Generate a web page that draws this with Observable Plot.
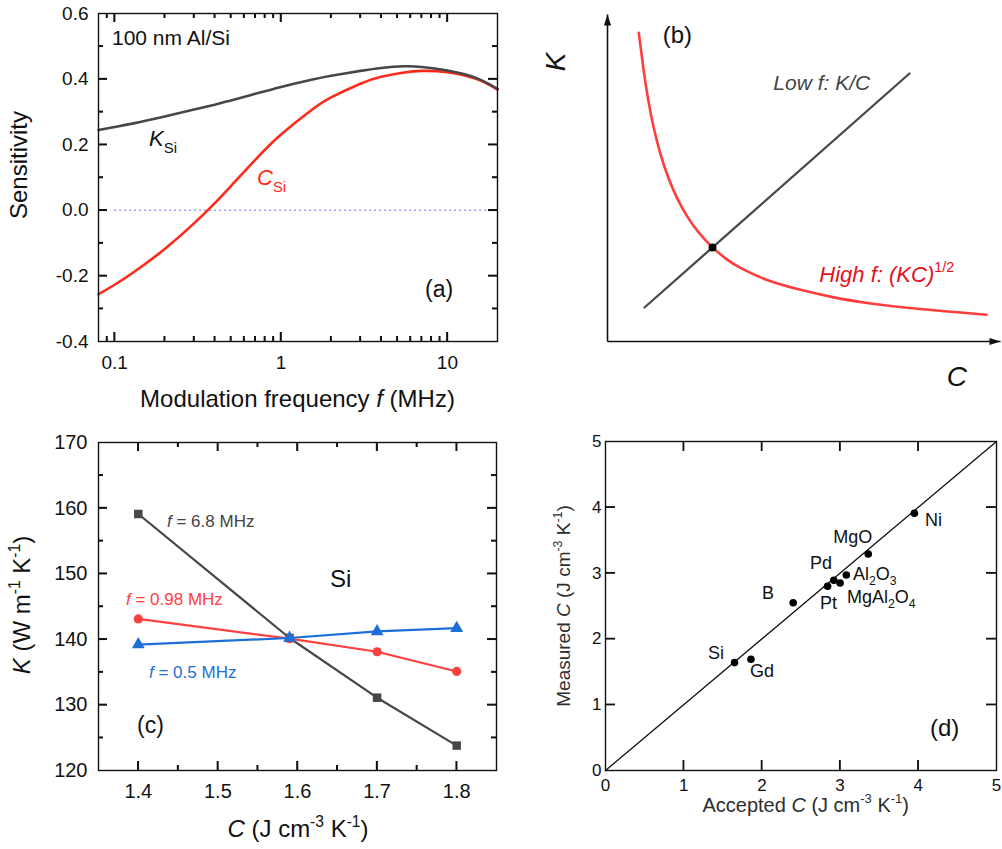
<!DOCTYPE html>
<html><head><meta charset="utf-8">
<script src="https://cdn.jsdelivr.net/npm/d3@7"></script>
<script src="https://cdn.jsdelivr.net/npm/@observablehq/plot@0.6"></script>
<style>
body{margin:0;background:#fff;}
#fig{position:relative;width:1002px;height:849px;background:#fff;overflow:hidden;}
</style></head><body><div id="fig"></div>
<script>
// ---------- data ----------
// (a) sensitivity vs modulation frequency
const freqA = [0.08, 0.1, 0.13, 0.2, 0.3, 0.4, 0.5, 0.7, 1, 1.5, 2, 3, 4, 5.5, 7, 10, 15, 20];
const sensK = [0.245, 0.254, 0.265, 0.286, 0.307, 0.322, 0.335, 0.355, 0.376, 0.397, 0.410, 0.425, 0.434, 0.439, 0.437, 0.426, 0.403, 0.370];
const sensC = [-0.256, -0.227, -0.189, -0.118, -0.040, 0.022, 0.074, 0.154, 0.231, 0.303, 0.344, 0.386, 0.407, 0.420, 0.425, 0.421, 0.400, 0.368];
const zeroLineF = [0.1, 20];
const xMajorA = [0.1, 1, 10];
const xMinorA = [0.09, 0.2, 0.3, 0.4, 0.5, 0.6, 0.7, 0.8, 0.9, 2, 3, 4, 5, 6, 7, 8, 9];
const yMajorA = [-0.2, 0, 0.2, 0.4];
const yMinorA = [-0.3, -0.1, 0.1, 0.3, 0.5];
const yLabelsA = [-0.4, -0.2, 0, 0.2, 0.4, 0.6];

// (b) schematic
const bRedC = [7.96, 9.16, 10.43, 11.78, 13.49, 15.52, 17.81, 20.36, 23.16, 26.72, 30.28, 33.84, 40.64, 49.11, 57.58, 66.08, 78.80, 96.44];
const bRedK = [94.4, 83.3, 73.5, 65.3, 57.3, 50.0, 43.6, 38.1, 33.4, 28.8, 25.2, 22.5, 18.8, 15.8, 13.5, 11.8, 10.0, 8.2];
const bLineC = [9.41, 76.84];
const bLineK = [10.4, 81.96];
const bCrossC = [26.72];
const bCrossK = [28.75];
const bAxisMax = 100;

// (c) K vs C for Si
const cVals = [1.4, 1.59, 1.7, 1.8];
const k68 = [159.1, 140.2, 131.1, 123.8];
const k098 = [143.1, 140.1, 138.1, 135.1];
const k05 = [139.2, 140.2, 141.2, 141.7];
const xMajorC = [1.4, 1.5, 1.6, 1.7, 1.8];
const xMinorC = [1.45, 1.55, 1.65, 1.75];
const yMajorC = [130, 140, 150, 160];
const yMinorC = [125, 135, 145, 155, 165];
const yLabelsC = [120, 130, 140, 150, 160, 170];

// (d) measured vs accepted C
const materials = ["Pd", "Si", "Gd", "B", "Pt", "MgAl2O4", "Al2O3", "MgO", "Ni"];
const accepted = [2.92, 1.65, 1.86, 2.40, 2.84, 3.00, 3.08, 3.36, 3.95];
const measured = [2.89, 1.64, 1.69, 2.55, 2.80, 2.85, 2.97, 3.29, 3.91];
const diag = [0, 5];
const ticksD = [0, 1, 2, 3, 4, 5];
const innerTicksD = [1, 2, 3, 4];

// ---------- helpers ----------
const FONT = "'Liberation Sans', Arial, Helvetica, sans-serif";
const fig = document.getElementById("fig");
function place(svg, left, top) {
  svg.style.position = "absolute";
  svg.style.left = left + "px";
  svg.style.top = top + "px";
  fig.appendChild(svg);
  return svg;
}
// inward ticks as Plot rules (length converted from pixels into data units of the frame)
function tk(g, side, values, size, sw = 1.5) {
  const {xd, yd, xlog, fw, fh} = g;
  const st = {stroke: "#111", strokeWidth: sw};
  const dy = size / fh * (yd[1] - yd[0]);
  const fx = size / fw;
  const xIn = xlog ? xd[0] * Math.pow(xd[1] / xd[0], fx) : xd[0] + fx * (xd[1] - xd[0]);
  const xOut = xlog ? xd[1] / Math.pow(xd[1] / xd[0], fx) : xd[1] - fx * (xd[1] - xd[0]);
  if (side === "bottom") return Plot.ruleX(values, {x: d => d, y1: yd[0], y2: yd[0] + dy, ...st});
  if (side === "top") return Plot.ruleX(values, {x: d => d, y1: yd[1] - dy, y2: yd[1], ...st});
  if (side === "left") return Plot.ruleY(values, {y: d => d, x1: xd[0], x2: xIn, ...st});
  return Plot.ruleY(values, {y: d => d, x1: xOut, x2: xd[1], ...st});
}
function allTicks(g, xMaj, xMin, yMaj, yMin, big, small, sw) {
  const out = [];
  for (const s of ["bottom", "top"]) { out.push(tk(g, s, xMaj, big, sw)); if (xMin.length) out.push(tk(g, s, xMin, small, sw)); }
  for (const s of ["left", "right"]) { out.push(tk(g, s, yMaj, big, sw)); if (yMin.length) out.push(tk(g, s, yMin, small, sw)); }
  return out;
}
// same ticks also drawn as svg lines through the plot's own scales
function drawTicks(plot, side, values, size, sw = 1.5) {
  const sx = plot.scale("x"), sy = plot.scale("y");
  const xl = Math.min(...sx.range), xr = Math.max(...sx.range);
  const yt = Math.min(...sy.range), yb = Math.max(...sy.range);
  const g = d3.select(plot).append("g").attr("stroke", "#111").attr("stroke-width", sw);
  for (const v of values) {
    if (side === "bottom" || side === "top") {
      const x = sx.apply(v);
      const y0 = side === "bottom" ? yb : yt, y1 = side === "bottom" ? yb - size : yt + size;
      g.append("line").attr("x1", x).attr("x2", x).attr("y1", y0).attr("y2", y1);
    } else {
      const y = sy.apply(v);
      const x0 = side === "left" ? xl : xr, x1 = side === "left" ? xl + size : xr - size;
      g.append("line").attr("x1", x0).attr("x2", x1).attr("y1", y).attr("y2", y);
    }
  }
}
function tl(axis, anchor, values, pad, fmt, fontSize) {
  const f = axis === "x" ? Plot.axisX : Plot.axisY;
  return f(values, {anchor, tickSize: 0, tickPadding: pad, tickFormat: fmt, label: null, fontSize, fill: "#111"});
}
function rich(svg, x, y, parts, {size = 18, fill = "#111", anchor = "start", rotate = 0} = {}) {
  const t = d3.select(svg).append("text")
    .attr("font-family", FONT).attr("font-size", size).attr("fill", fill)
    .attr("text-anchor", anchor)
    .attr("transform", `translate(${x},${y})` + (rotate ? ` rotate(${rotate})` : ""));
  let shift = 0;
  for (const p of parts) {
    const [s, kind] = typeof p === "string" ? [p, ""] : p;
    const flags = kind.split(" ");
    const ts = t.append("tspan").text(s);
    let target = 0, fs = size;
    if (flags.includes("sup")) { target = -0.42 * size; fs = 0.65 * size; }
    if (flags.includes("sub")) { target = 0.3 * size; fs = 0.68 * size; }
    if (flags.includes("i")) ts.attr("font-style", "italic");
    ts.attr("font-size", fs);
    if (target - shift) ts.attr("dy", target - shift);
    shift = target;
  }
  return t;
}
const baseStyle = {fontFamily: FONT, color: "#111", background: "transparent", overflow: "visible"};

// ---------- panel (a) ----------
const dataA = freqA.map((f, i) => ({f, k: sensK[i], c: sensC[i]}));
const gA = {xd: [0.08, 20], yd: [-0.4, 0.6], xlog: true, fw: 501 - 98 - 4, fh: 420 - 13 - 79};
const pa = Plot.plot({
  width: 501, height: 420, marginLeft: 98, marginRight: 4, marginTop: 13, marginBottom: 79,
  style: baseStyle,
  x: {type: "log", domain: gA.xd, label: null},
  y: {domain: gA.yd, label: null},
  marks: [
    Plot.ruleY([0], {x1: zeroLineF[0], x2: zeroLineF[1], stroke: "#9a9aff", strokeWidth: 1.4, strokeDasharray: "2,3"}),
    Plot.line(dataA, {x: "f", y: "c", stroke: "#ff2a1a", strokeWidth: 2.6, curve: "natural"}),
    Plot.line(dataA, {x: "f", y: "k", stroke: "#474747", strokeWidth: 2.6, curve: "natural"}),
    ...allTicks(gA, xMajorA, xMinorA, yMajorA, yMinorA, 9, 5, 1.5),
    Plot.frame({stroke: "#111", strokeWidth: 1.4}),
    tl("x", "bottom", xMajorA, 14, d => String(d), 19),
    tl("y", "left", yLabelsA, 10, d => d.toFixed(1), 19)
  ]
});
place(pa, 0, 0);
for (const s of ["bottom", "top"]) { drawTicks(pa, s, xMajorA, 9); drawTicks(pa, s, xMinorA, 5); }
for (const s of ["left", "right"]) { drawTicks(pa, s, yMajorA, 9); drawTicks(pa, s, yMinorA, 5); }
rich(pa, 112, 45, ["100 nm Al/Si"], {size: 21});
rich(pa, 27, 165, ["Sensitivity"], {size: 24, anchor: "middle", rotate: -90});
rich(pa, 297.5, 407, ["Modulation frequency ", ["f", "i"], " (MHz)"], {size: 24, anchor: "middle"});
rich(pa, 425, 297, ["(a)"], {size: 23});
rich(pa, 149, 146, [["K", "i"], ["Si", "sub"]], {size: 22});
rich(pa, 257, 185, [["C", "i"], ["Si", "sub"]], {size: 22, fill: "#ff2a1a"});

// ---------- panel (b) ----------
const redB = bRedC.map((c, i) => ({c, k: bRedK[i]}));
const lineB = bLineC.map((c, i) => ({c, k: bLineK[i]}));
const crossB = bCrossC.map((c, i) => ({c, k: bCrossK[i]}));
const axesB = [{x1: 0, y1: 0, x2: 0, y2: bAxisMax}, {x1: 0, y1: 0, x2: bAxisMax, y2: 0}];
const headUp = {draw(ctx) { ctx.moveTo(0, 0); ctx.lineTo(3.6, 11); ctx.lineTo(-3.6, 11); ctx.closePath(); }};
const headRight = {draw(ctx) { ctx.moveTo(0, 0); ctx.lineTo(-11, 3.6); ctx.lineTo(-11, -3.6); ctx.closePath(); }};
const pb = Plot.plot({
  width: 501, height: 420, marginLeft: 106, marginRight: 2, marginTop: 14, marginBottom: 79,
  style: baseStyle,
  x: {domain: [0, bAxisMax], axis: null},
  y: {domain: [0, bAxisMax], axis: null},
  marks: [
    Plot.link(axesB, {x1: "x1", y1: "y1", x2: "x2", y2: "y2", stroke: "#111", strokeWidth: 1.6}),
    Plot.dot([{x: 0, y: bAxisMax}], {x: "x", y: "y", symbol: headUp, fill: "#111", stroke: "none", r: 4}),
    Plot.dot([{x: bAxisMax, y: 0}], {x: "x", y: "y", symbol: headRight, fill: "#111", stroke: "none", r: 4}),
    Plot.line(lineB, {x: "c", y: "k", stroke: "#4a4a4a", strokeWidth: 2.3}),
    Plot.line(redB, {x: "c", y: "k", stroke: "#ff3d3d", strokeWidth: 2.6, curve: "natural"}),
    Plot.dot(crossB, {x: "c", y: "k", r: 4, fill: "#000"})
  ]
});
place(pb, 501, 0);
rich(pb, 161.7, 43.3, ["(b)"], {size: 24});
rich(pb, 64, 62, [["K", "i"]], {size: 28, anchor: "middle", rotate: -90});
rich(pb, 445.7, 386, [["C", "i"]], {size: 28});
rich(pb, 272.3, 90, [["Low f: K/C", "i"]], {size: 21, fill: "#444"});
rich(pb, 318.3, 281.7, [["High f: (KC)", "i"], ["1/2", "sup"]], {size: 22, fill: "#e3121c"});

// ---------- panel (c) ----------
const dataC = [
  ...cVals.map((x, i) => ({x, k: k68[i], s: "6.8"})),
  ...cVals.map((x, i) => ({x, k: k098[i], s: "0.98"})),
  ...cVals.map((x, i) => ({x, k: k05[i], s: "0.5"}))
];
const colC = {"6.8": "#474747", "0.98": "#ff4040", "0.5": "#1c6fd8"};
const symC = {"6.8": "square", "0.98": "circle", "0.5": "triangle"};
const rC = {"6.8": 4.8, "0.98": 4.6, "0.5": 4.8};
const seriesC = ["6.8", "0.98", "0.5"];
const gC = {xd: [1.35, 1.85], yd: [120, 170], xlog: false, fw: 501 - 98 - 5, fh: 429 - 22 - 79};
const pc = Plot.plot({
  width: 501, height: 429, marginLeft: 98, marginRight: 5, marginTop: 22, marginBottom: 79,
  style: baseStyle,
  x: {domain: gC.xd, label: null},
  y: {domain: gC.yd, label: null},
  marks: [
    ...allTicks(gC, xMajorC, xMinorC, yMajorC, yMinorC, 9, 5, 1.5),
    ...seriesC.flatMap(s => [
      Plot.line(dataC.filter(d => d.s === s), {x: "x", y: "k", stroke: colC[s], strokeWidth: 2.2}),
      Plot.dot(dataC.filter(d => d.s === s), {x: "x", y: "k", symbol: symC[s], r: rC[s], fill: colC[s], stroke: "none"})
    ]),
    Plot.frame({stroke: "#111", strokeWidth: 1.4}),
    tl("x", "bottom", xMajorC, 13, d => d.toFixed(1), 20),
    tl("y", "left", yLabelsC, 11, d => String(d), 20)
  ]
});
place(pc, 0, 420);
for (const s of ["bottom", "top"]) { drawTicks(pc, s, xMajorC, 9); drawTicks(pc, s, xMinorC, 5); }
for (const s of ["left", "right"]) { drawTicks(pc, s, yMajorC, 9); drawTicks(pc, s, yMinorC, 5); }
rich(pc, 167, 106.7, [["f", "i"], " = 6.8 MHz"], {size: 17, fill: "#444"});
rich(pc, 330, 166.7, ["Si"], {size: 24});
rich(pc, 126, 185, [["f", "i"], " = 0.98 MHz"], {size: 17, fill: "#ff4040"});
rich(pc, 149, 258, [["f", "i"], " = 0.5 MHz"], {size: 17, fill: "#1c6fd8"});
rich(pc, 137, 313, ["(c)"], {size: 23});
rich(pc, 30, 185, [["K", "i"], " (W m", ["-1", "sup"], " K", ["-1", "sup"], ")"], {size: 24, anchor: "middle", rotate: -90});
rich(pc, 298, 417, [["C", "i"], " (J cm", ["-3", "sup"], " K", ["-1", "sup"], ")"], {size: 24, anchor: "middle"});

// ---------- panel (d) ----------
const dataD = materials.map((m, i) => ({m, a: accepted[i], v: measured[i]}));
const gD = {xd: [0, 5], yd: [0, 5], xlog: false, fw: 501 - 104 - 6, fh: 429 - 21 - 79};
const pd = Plot.plot({
  width: 501, height: 429, marginLeft: 104, marginRight: 6, marginTop: 21, marginBottom: 79,
  style: baseStyle,
  x: {domain: gD.xd, label: null},
  y: {domain: gD.yd, label: null},
  marks: [
    ...allTicks(gD, innerTicksD, [], innerTicksD, [], 10, 0, 1.3),
    Plot.line(diag.map(v => ({a: v, v})), {x: "a", y: "v", stroke: "#111", strokeWidth: 1.3}),
    Plot.dot(dataD, {x: "a", y: "v", r: 3.8, fill: "#000", stroke: "none"}),
    Plot.frame({stroke: "#111", strokeWidth: 1.4}),
    tl("x", "bottom", ticksD, 8, d => String(d), 17),
    tl("y", "left", ticksD, 4, d => String(d), 17)
  ]
});
place(pd, 501, 420);
for (const s of ["bottom", "top", "left", "right"]) drawTicks(pd, s, innerTicksD, 10, 1.3);
rich(pd, 424, 106, ["Ni"], {size: 18});
rich(pd, 332.3, 123.3, ["MgO"], {size: 18});
rich(pd, 309, 149.3, ["Pd"], {size: 18});
rich(pd, 352, 159.7, ["Al", ["2", "sub"], "O", ["3", "sub"]], {size: 18});
rich(pd, 261, 179, ["B"], {size: 18});
rich(pd, 319, 189.3, ["Pt"], {size: 18});
rich(pd, 346, 183, ["MgAl", ["2", "sub"], "O", ["4", "sub"]], {size: 18});
rich(pd, 207, 239.3, ["Si"], {size: 18});
rich(pd, 249, 256.7, ["Gd"], {size: 18});
rich(pd, 429, 316, ["(d)"], {size: 24});
rich(pd, 69, 186, ["Measured ", ["C", "i"], " (J cm", ["-3", "sup"], " K", ["-1", "sup"], ")"], {size: 19, anchor: "middle", rotate: -90, fill: "#2e2e2e"});
rich(pd, 304.7, 391.7, ["Accepted ", ["C", "i"], " (J cm", ["-3", "sup"], " K", ["-1", "sup"], ")"], {size: 20, anchor: "middle", fill: "#2e2e2e"});
</script></body></html>
